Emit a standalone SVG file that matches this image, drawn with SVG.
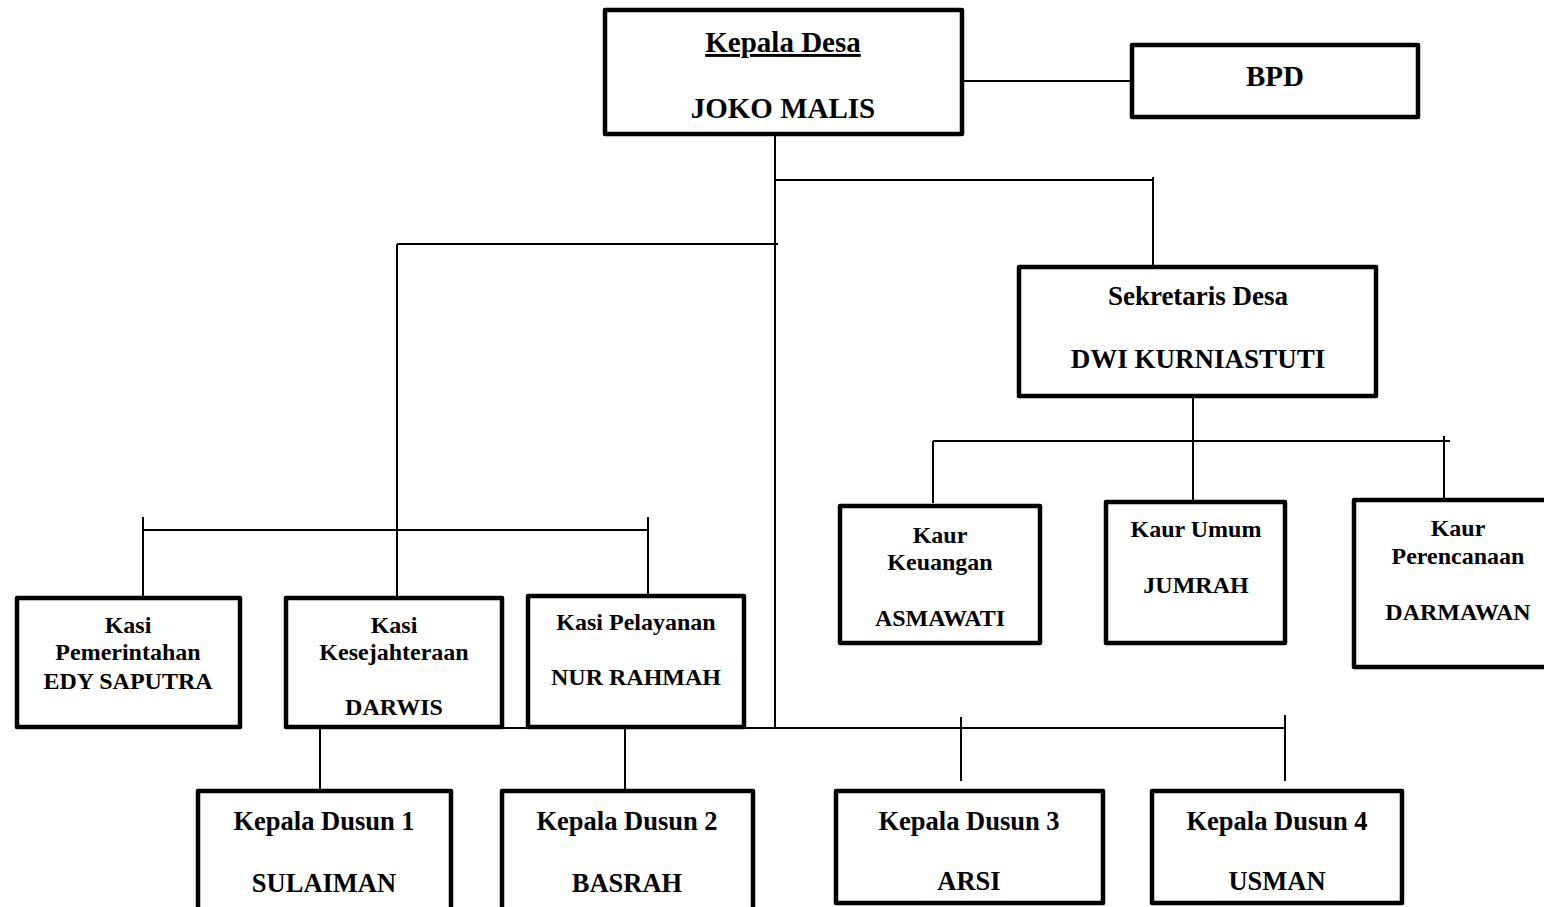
<svg xmlns="http://www.w3.org/2000/svg" width="1544" height="907" viewBox="0 0 1544 907">
<style>
.box{fill:#fff;stroke:#000;stroke-width:4.5;stroke-linejoin:round}
.ln{stroke:#000;stroke-width:2;fill:none}
text{font-family:"Liberation Serif","Times New Roman",serif;font-weight:bold;fill:#000;text-anchor:middle}
.t29{font-size:29px}
.t27{font-size:27px}
.t26{font-size:26.5px}
.t24{font-size:24px}
</style>
<rect width="1544" height="907" fill="#fff"/>
<g id="connectors">
<path class="ln" d="M962 81H1131"/>
<path class="ln" d="M775 136V728"/>
<path class="ln" d="M775 180H1153M1153 177V266"/>
<path class="ln" d="M397 244H778M397 244V597"/>
<path class="ln" d="M1193 397V500"/>
<path class="ln" d="M933 441H1450M933 441V503M1444 436V498"/>
<path class="ln" d="M143 530H648M143 517V597M648 517V595"/>
<path class="ln" d="M502 728H1285M961 717V781M1285 715V781"/>
<path class="ln" d="M320 717V790M625 722V790"/>
</g>
<g id="kepala-desa">
<rect class="box" x="605" y="10" width="357" height="124"/>
<text class="t29" x="783" y="52" text-decoration="underline">Kepala Desa</text>
<text class="t29" x="783" y="118">JOKO MALIS</text>
</g>
<g id="bpd">
<rect class="box" x="1132" y="45" width="286" height="72"/>
<text class="t29" x="1275" y="86">BPD</text>
</g>
<g id="sekretaris">
<rect class="box" x="1019" y="267" width="357" height="129"/>
<text class="t27" x="1198" y="305">Sekretaris Desa</text>
<text class="t27" x="1198" y="368">DWI KURNIASTUTI</text>
</g>
<g id="kaur-keuangan">
<rect class="box" x="840" y="506" width="200" height="137"/>
<text class="t24" x="940" y="543">Kaur</text>
<text class="t24" x="940" y="570">Keuangan</text>
<text class="t24" x="940" y="626">ASMAWATI</text>
</g>
<g id="kaur-umum">
<rect class="box" x="1106" y="502" width="179" height="141"/>
<text class="t24" x="1196" y="537">Kaur Umum</text>
<text class="t24" x="1196" y="593">JUMRAH</text>
</g>
<g id="kaur-perencanaan">
<rect class="box" x="1354" y="500" width="200" height="167"/>
<text class="t24" x="1458" y="536">Kaur</text>
<text class="t24" x="1458" y="564">Perencanaan</text>
<text class="t24" x="1458" y="620">DARMAWAN</text>
</g>
<g id="kasi-pemerintahan">
<rect class="box" x="17" y="598" width="223" height="129"/>
<text class="t24" x="128" y="633">Kasi</text>
<text class="t24" x="128" y="660">Pemerintahan</text>
<text class="t24" x="128" y="689">EDY SAPUTRA</text>
</g>
<g id="kasi-kesejahteraan">
<rect class="box" x="286" y="598" width="216" height="129"/>
<text class="t24" x="394" y="633">Kasi</text>
<text class="t24" x="394" y="660">Kesejahteraan</text>
<text class="t24" x="394" y="715">DARWIS</text>
</g>
<g id="kasi-pelayanan">
<rect class="box" x="528" y="596" width="216" height="131"/>
<text class="t24" x="636" y="630">Kasi Pelayanan</text>
<text class="t24" x="636" y="685">NUR RAHMAH</text>
</g>
<g id="dusun-1">
<rect class="box" x="198" y="791" width="253" height="125"/>
<text class="t26" x="324" y="830">Kepala Dusun 1</text>
<text class="t26" x="324" y="892">SULAIMAN</text>
</g>
<g id="dusun-2">
<rect class="box" x="502" y="791" width="251" height="125"/>
<text class="t26" x="627" y="830">Kepala Dusun 2</text>
<text class="t26" x="627" y="892">BASRAH</text>
</g>
<g id="dusun-3">
<rect class="box" x="836" y="791" width="267" height="112"/>
<text class="t26" x="969" y="830">Kepala Dusun 3</text>
<text class="t26" x="969" y="890">ARSI</text>
</g>
<g id="dusun-4">
<rect class="box" x="1152" y="791" width="250" height="112"/>
<text class="t26" x="1277" y="830">Kepala Dusun 4</text>
<text class="t26" x="1277" y="890">USMAN</text>
</g>
</svg>
